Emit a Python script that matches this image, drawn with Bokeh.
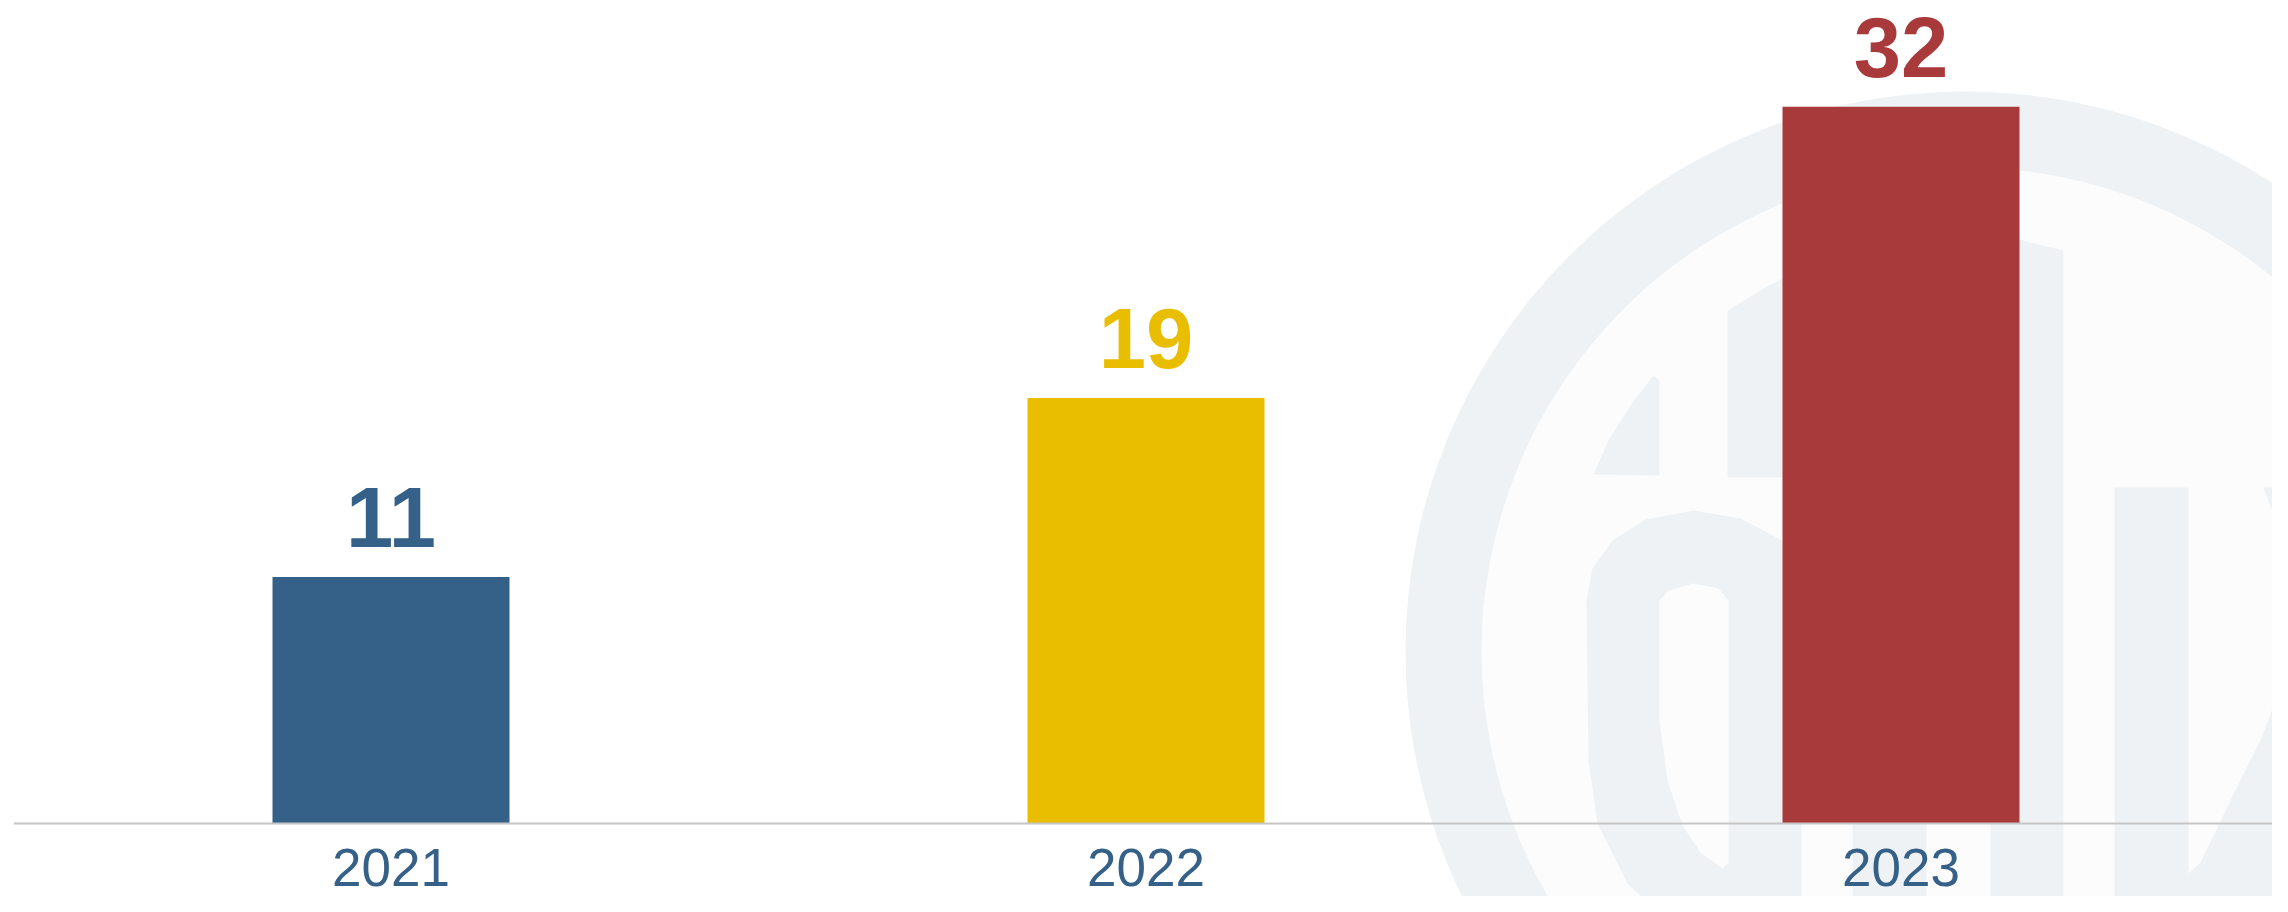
from bokeh.plotting import figure
from bokeh.embed import file_html
from bokeh.resources import INLINE
from bokeh.core.properties import value

# ---- data ----
years = ["2021", "2022", "2023"]
counts = [11, 19, 32]
bar_colors = ["#356087", "#E9BE00", "#A93A3B"]
label_color = "#356087"

# ---- layout (figure pixels) ----
W, H = 2272, 896
LEFT = 13
BASE_PX = 823          # baseline position from top of figure
PX_PER_UNIT = 22.4
PX_PER_CAT = 755
FONT = value("Liberation Sans")

p = figure(width=W, height=H, output_backend="svg", toolbar_location=None,
           x_range=(0, (W - LEFT) / PX_PER_CAT),
           y_range=(-(H - BASE_PX) / PX_PER_UNIT, BASE_PX / PX_PER_UNIT),
           x_axis_location=None, y_axis_location=None,
           min_border_left=LEFT, min_border_right=0,
           min_border_top=0, min_border_bottom=0)
p.outline_line_color = None
p.xgrid.visible = False
p.ygrid.visible = False
p.background_fill_color = "white"
p.border_fill_color = "white"

# helpers converting picture pixels to data coords (decoration only)
def dx(X):
    return (X - LEFT) / PX_PER_CAT

def dy(Y):
    return (BASE_PX - Y) / PX_PER_UNIT

def poly(pts, color):
    p.patch([dx(a) for a, b in pts], [dy(b) for a, b in pts],
            fill_color=color, line_color=None)

# ---- decorative watermark ----
WM = "#EEF2F5"
WM_IN = "#FCFCFC"
cx, cy = 1965, 651
p.ellipse(x=[dx(cx)], y=[dy(cy)], width=[1120 / PX_PER_CAT], height=[1120 / PX_PER_UNIT],
          fill_color=WM, line_color=None)
p.ellipse(x=[dx(cx)], y=[dy(cy)], width=[968 / PX_PER_CAT], height=[968 / PX_PER_UNIT],
          fill_color=WM_IN, line_color=None)
poly([(1593, 474), (1659, 475), (1659, 380), (1653, 375), (1630, 405), (1608, 440)], WM)
poly([(1727, 477), (1727, 310), (1760, 290), (1800, 268), (1850, 252), (1900, 242),
      (1950, 237), (2019, 239), (2063, 250), (2063, 912), (1990, 912), (1990, 477)], WM)
poly([(1852, 477), (1926, 477), (1926, 912), (1852, 912)], WM)
poly([(1658, 912), (1627, 883), (1597, 823), (1588, 760), (1586, 600), (1592, 568),
      (1612, 540), (1645, 519), (1693, 510), (1740, 518), (1782, 540), (1801, 560),
      (1801, 912)], WM)
poly([(1659, 600), (1668, 590), (1693, 583), (1718, 588), (1728, 600), (1728, 862),
      (1722, 868), (1700, 852), (1682, 825), (1667, 780), (1659, 720)], WM_IN)
poly([(2114, 487), (2188, 487), (2188, 873), (2200, 862), (2230, 800), (2260, 740),
      (2288, 665), (2288, 876), (2258, 912), (2114, 912)], WM)
poly([(2263, 487), (2288, 487), (2288, 555)], WM)

# ---- bars ----
xs = [i + 0.5 for i in range(len(years))]
p.vbar(x=xs, top=counts, bottom=0, width=237 / PX_PER_CAT,
       fill_color=bar_colors, line_color=None)

# baseline
p.segment(x0=[dx(13)], y0=[0], x1=[dx(2272)], y1=[0], line_color="#C6C6C6", line_width=2)

# value labels (ink bottom 30px above bar)
p.text(x=xs, y=counts, text=[str(v) for v in counts], text_color=bar_colors,
       y_offset=-30, text_align="center", text_baseline="bottom",
       text_font=FONT, text_font_size="85px", text_font_style="bold")

# category labels
p.text(x=xs, y=[0] * len(years), text=years, text_color=label_color,
       y_offset=62, text_align="center", text_baseline="bottom",
       text_font=FONT, text_font_size="53px")

open("out.html", "w").write(file_html(p, INLINE))
